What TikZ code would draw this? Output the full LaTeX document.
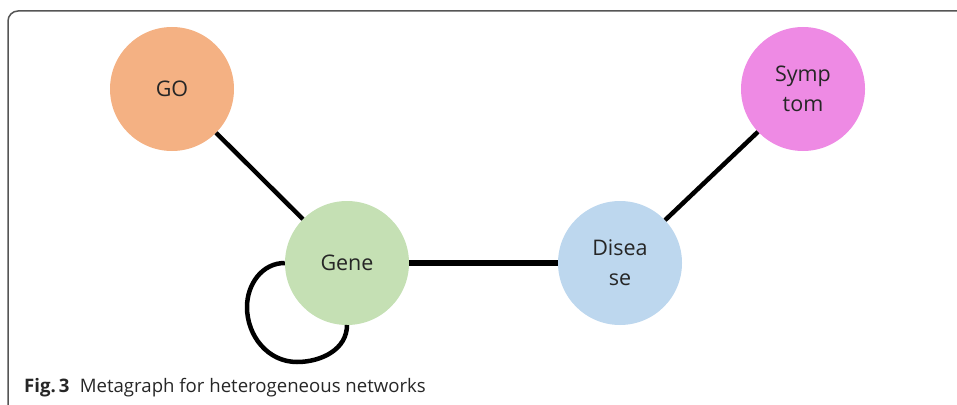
\documentclass[tikz,border=0pt]{standalone}
\usepackage{fontspec}
\setmainfont{Open Sans}
\definecolor{goC}{HTML}{F4B183}
\definecolor{symC}{HTML}{EE8AE4}
\definecolor{geneC}{HTML}{C5E0B4}
\definecolor{disC}{HTML}{BDD7EE}
\definecolor{frameC}{HTML}{555555}
\tikzset{
  ent/.style={circle, minimum size=124pt, inner sep=0pt, align=center,
    font=\fontsize{21.5}{30}\selectfont, text=black!85},
  link/.style={line width=4.5pt, black},
}
\begin{document}
\begin{tikzpicture}[x=1pt,y=-1pt]
\useasboundingbox (0,0) rectangle (957,404);
\begin{scope}
\clip (0,0) rectangle (957,404);
\draw[frameC, line width=1.5pt, rounded corners=10pt] (8,11) rectangle (990,430);
\end{scope}
\node[ent, fill=goC] (go) at (172,89) {GO};
\node[ent, fill=symC] (sym) at (803,89) {Symp\\tom};
\node[ent, fill=geneC] (gene) at (347,263) {Gene};
\node[ent, fill=disC] (dis) at (620,263) {Disea\\se};
\draw[link] (go) -- (gene);
\draw[link, line width=5.5pt] (gene) -- (dis);
\draw[link] (dis) -- (sym);
\draw[link] (gene.west) to[out=180, in=90] (247,307) to[out=-90, in=180] (297,362) to[out=0, in=-90] (347,325);
\node[anchor=base west, inner sep=0pt, font=\fontsize{18.6}{20}\selectfont, text=black!85] (cap) at (24,392) {\textbf{Fig.\,3}\hspace{0.55em}Metagraph for heterogeneous networks};
\end{tikzpicture}
\end{document}
